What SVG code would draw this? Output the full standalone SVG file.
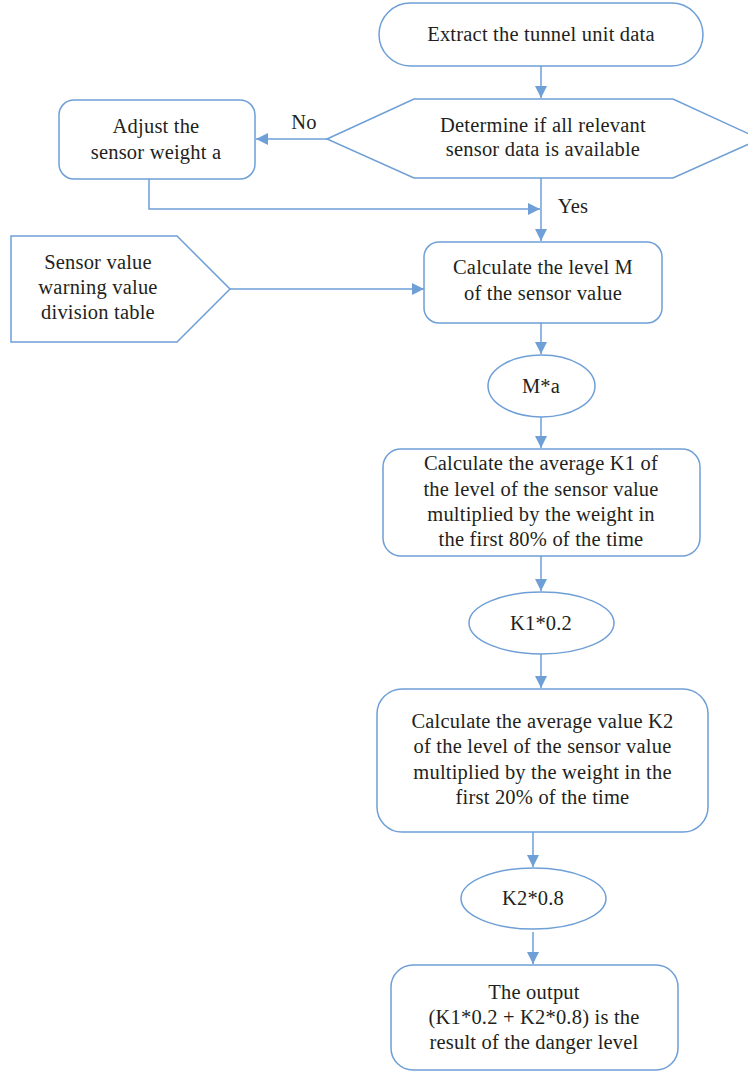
<svg xmlns="http://www.w3.org/2000/svg" width="748" height="1073" viewBox="0 0 748 1073">
<style>
.s{fill:#fff;stroke:#6e9fd6;stroke-width:1.5}
.c{fill:none;stroke:#6e9fd6;stroke-width:1.5}
text{font-family:"Liberation Serif","Times New Roman",serif;font-size:20.5px;letter-spacing:0.2px;fill:#231f20;text-anchor:middle}
</style>
<defs>
<marker id="a" markerWidth="12" markerHeight="12" viewBox="0 0 12 12" refX="12" refY="6" orient="auto" markerUnits="userSpaceOnUse">
<path d="M0,0 L12,6 L0,12 z" fill="#6e9fd6"/>
</marker>
</defs>
<g id="connectors">
<path class="c" d="M541,66 V98" marker-end="url(#a)"/>
<path class="c" d="M327,139 H256" marker-end="url(#a)"/>
<path class="c" d="M541,178 V241" marker-end="url(#a)"/>
<path class="c" d="M149,179 V209 H540" marker-end="url(#a)"/>
<path class="c" d="M230,289 H424" marker-end="url(#a)"/>
<path class="c" d="M541,323 V354" marker-end="url(#a)"/>
<path class="c" d="M541,417 V448" marker-end="url(#a)"/>
<path class="c" d="M541,556 V591" marker-end="url(#a)"/>
<path class="c" d="M541,654 V688" marker-end="url(#a)"/>
<path class="c" d="M533,832 V867" marker-end="url(#a)"/>
<path class="c" d="M533,932 V964" marker-end="url(#a)"/>
<text x="304" y="129">No</text>
<text x="573" y="213">Yes</text>
</g>
<g id="start">
<rect class="s" x="379" y="3" width="324" height="63" rx="31.5"/>
<text x="541" y="41">Extract the tunnel unit data</text>
</g>
<g id="decision">
<polygon class="s" points="327,139 414,99 673,99 760,139 673,178 414,178"/>
<text x="543" y="132">Determine if all relevant</text>
<text x="543" y="156">sensor data is available</text>
</g>
<g id="adjust">
<rect class="s" x="59" y="100" width="196" height="79" rx="15"/>
<text x="156" y="133">Adjust the</text>
<text x="156" y="159">sensor weight a</text>
</g>
<g id="table">
<polygon class="s" points="11,236 177,236 230,289 177,342 11,342"/>
<text x="98" y="269">Sensor value</text>
<text x="98" y="294">warning value</text>
<text x="98" y="319">division table</text>
</g>
<g id="calcM">
<rect class="s" x="424" y="242" width="238" height="81" rx="15"/>
<text x="543" y="274">Calculate the level M</text>
<text x="543" y="300">of the sensor value</text>
</g>
<g id="Ma">
<ellipse class="s" cx="541.5" cy="386" rx="53.5" ry="31"/>
<text x="541" y="393">M*a</text>
</g>
<g id="K1">
<rect class="s" x="383" y="449" width="317" height="107" rx="18"/>
<text x="541" y="470">Calculate the average K1 of</text>
<text x="541" y="496">the level of the sensor value</text>
<text x="541" y="521">multiplied by the weight in</text>
<text x="541" y="546">the first 80% of the time</text>
</g>
<g id="K1x">
<ellipse class="s" cx="541.5" cy="623" rx="72.5" ry="31"/>
<text x="541" y="630">K1*0.2</text>
</g>
<g id="K2">
<rect class="s" x="377" y="689" width="331" height="143" rx="25"/>
<text x="542.5" y="728">Calculate the average value K2</text>
<text x="542.5" y="753">of the level of the sensor value</text>
<text x="542.5" y="779">multiplied by the weight in the</text>
<text x="542.5" y="804">first 20% of the time</text>
</g>
<g id="K2x">
<ellipse class="s" cx="533.5" cy="898.5" rx="72.5" ry="30.5"/>
<text x="533" y="905">K2*0.8</text>
</g>
<g id="output">
<rect class="s" x="391" y="965" width="287" height="105" rx="22"/>
<text x="534" y="999">The output</text>
<text x="534" y="1024">(K1*0.2 + K2*0.8) is the</text>
<text x="534" y="1049">result of the danger level</text>
</g>
</svg>
